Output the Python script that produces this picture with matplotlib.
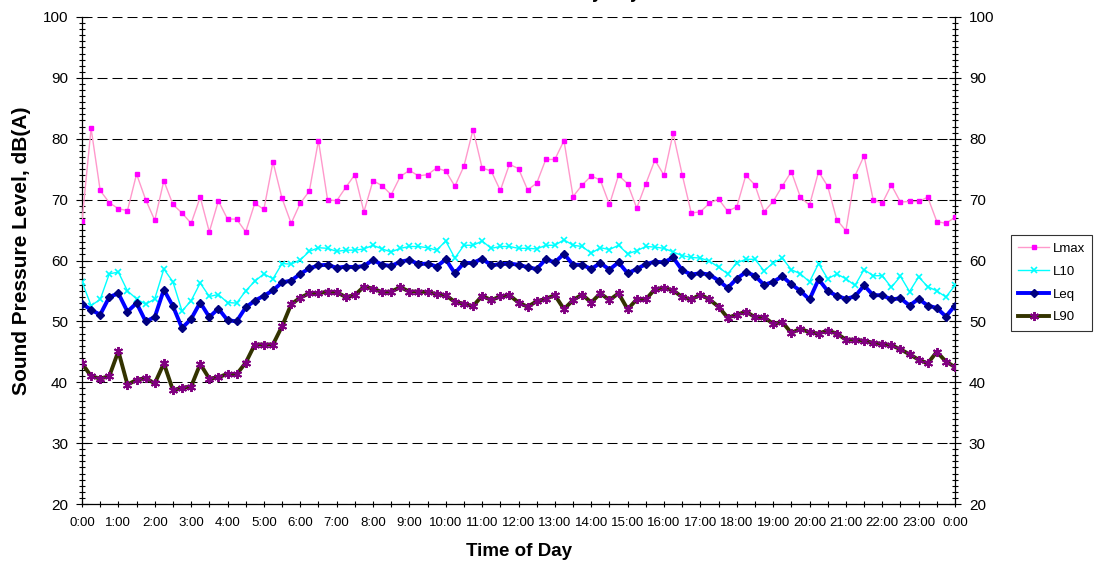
import numpy as np
import matplotlib
matplotlib.use("Agg")
import matplotlib.pyplot as plt
from matplotlib.ticker import MultipleLocator, FixedLocator, FixedFormatter

plt.rcParams['font.family'] = ['Liberation Sans', 'DejaVu Sans']

# 15-minute readings over one day, 0:00 through the following 0:00
hour_labels = [f"{h}:00" for h in range(24)] + ["0:00"]

lmax = [66.5, 81.7, 71.5, 69.5, 68.5, 68.2, 74.2, 70.0, 66.6, 73.1, 69.2, 67.8, 66.1,
        70.4, 64.7, 69.8, 66.8, 66.8, 64.7, 69.4, 68.4, 76.2, 70.2, 66.1, 69.4,
        71.4, 79.7, 70.0, 69.8, 72.0, 74.1, 68.0, 73.1, 72.3, 70.8, 73.8, 74.8,
        73.9, 74.1, 75.2, 74.7, 72.2, 75.5, 81.5, 75.2, 74.7, 71.5, 75.8, 75.1,
        71.6, 72.7, 76.6, 76.6, 79.7, 70.5, 72.4, 73.9, 73.2, 69.2, 74.0, 72.6,
        68.6, 72.6, 76.5, 74.0, 80.9, 74.1, 67.8, 68.0, 69.4, 70.1, 68.1, 68.8,
        74.0, 72.4, 68.0, 69.7, 72.2, 74.6, 70.4, 69.1, 74.6, 72.2, 66.7, 64.9,
        73.9, 77.2, 70.0, 69.4, 72.4, 69.6, 69.7, 69.7, 70.4, 66.4, 66.1, 67.1]

l10 = [56.5, 52.6, 53.6, 57.8, 58.1, 55.0, 53.7, 52.8, 53.7, 58.6, 56.5, 51.7, 53.4,
       56.3, 54.1, 54.4, 53.1, 53.0, 55.0, 56.6, 57.8, 57.0, 59.5, 59.4, 60.1,
       61.5, 62.1, 62.0, 61.5, 61.7, 61.7, 61.9, 62.5, 61.9, 61.4, 62.0, 62.3,
       62.3, 62.1, 61.7, 63.2, 60.4, 62.5, 62.5, 63.2, 62.0, 62.3, 62.3, 62.0,
       62.0, 61.9, 62.5, 62.5, 63.4, 62.5, 62.3, 61.2, 62.1, 61.8, 62.5, 61.1,
       61.6, 62.3, 62.2, 62.0, 61.4, 60.8, 60.5, 60.4, 59.9, 58.9, 57.8, 59.6,
       60.2, 60.2, 58.3, 59.6, 60.4, 58.5, 57.8, 56.5, 59.5, 57.0, 57.8, 57.0,
       55.9, 58.5, 57.5, 57.5, 55.6, 57.4, 54.9, 57.3, 55.7, 55.0, 54.0, 55.9]

leq = [52.9, 51.9, 51.1, 54.0, 54.6, 51.6, 53.0, 50.0, 50.7, 55.2, 52.5, 48.9, 50.4,
       53.1, 50.7, 52.1, 50.2, 50.0, 52.3, 53.4, 54.2, 55.1, 56.4, 56.7, 57.8,
       58.7, 59.2, 59.3, 58.8, 59.0, 58.9, 59.1, 60.1, 59.3, 59.1, 59.8, 60.1,
       59.4, 59.5, 59.0, 60.2, 57.9, 59.6, 59.6, 60.3, 59.2, 59.4, 59.5, 59.3,
       58.9, 58.6, 60.2, 59.7, 61.1, 59.3, 59.3, 58.6, 59.6, 58.5, 59.7, 57.9,
       58.6, 59.4, 59.8, 59.7, 60.5, 58.4, 57.7, 57.9, 57.7, 56.7, 55.5, 57.0,
       58.1, 57.5, 56.0, 56.5, 57.4, 56.1, 55.0, 53.6, 56.9, 55.0, 54.2, 53.7,
       54.1, 55.9, 54.3, 54.3, 53.6, 53.8, 52.6, 53.7, 52.6, 52.2, 50.8, 52.6]

l90 = [43.1, 41.0, 40.6, 41.0, 45.1, 39.6, 40.4, 40.7, 39.8, 43.1, 38.7, 39.1, 39.3,
       43.0, 40.6, 40.8, 41.4, 41.3, 43.2, 46.2, 46.2, 46.2, 49.2, 52.8, 53.9,
       54.6, 54.6, 54.9, 54.8, 54.0, 54.3, 55.7, 55.4, 54.8, 54.9, 55.6, 54.9,
       54.9, 54.8, 54.5, 54.3, 53.2, 52.9, 52.5, 54.2, 53.5, 54.1, 54.3, 53.1,
       52.4, 53.3, 53.7, 54.3, 52.0, 53.5, 54.4, 53.1, 54.6, 53.5, 54.6, 52.0,
       53.6, 53.6, 55.3, 55.5, 55.1, 54.0, 53.6, 54.4, 53.6, 52.4, 50.6, 51.1,
       51.6, 50.7, 50.7, 49.6, 49.9, 48.1, 48.8, 48.2, 48.0, 48.5, 48.0, 47.0,
       47.0, 46.8, 46.5, 46.3, 46.1, 45.4, 44.6, 43.7, 43.1, 45.0, 43.4, 42.5]

x = np.arange(len(lmax))

fig = plt.figure(figsize=(10.99, 5.63), dpi=100)
ax = fig.add_axes([82 / 1099, 1 - 504 / 563, (955 - 82) / 1099, (504 - 17) / 563])

ax.plot(x, lmax, color='#FF99CC', lw=1.0, marker='s', ms=3.4,
        mfc='#FF00FF', mec='#FF00FF', label='Lmax', zorder=3)
ax.plot(x, l10, color='#00FFFF', lw=1.0, marker='x', ms=5, mew=1.2,
        mec='#00FFFF', label='L10', zorder=3)
ax.plot(x, leq, color='#0000FF', lw=2.8, marker='D', ms=3.6,
        mfc='#000080', mec='#000080', label='Leq', zorder=4)
ax.plot(x, l90, color='#333300', lw=2.8, marker=(6, 2, 0), ms=6.5, mew=1.4,
        mec='#800080', label='L90', zorder=4)

ax.set_xlim(0, len(x) - 1)
ax.set_ylim(20, 100)

# hour labels every 4 readings, tick marks every half hour
ax.xaxis.set_major_locator(FixedLocator(np.arange(0, len(x), 4)))
ax.xaxis.set_major_formatter(FixedFormatter(hour_labels))
ax.xaxis.set_minor_locator(MultipleLocator(2))
ax.yaxis.set_major_locator(MultipleLocator(10))
ax.yaxis.set_minor_locator(MultipleLocator(1))

ax.tick_params(axis='x', which='both', direction='inout', length=5, width=0.8,
               labelsize=9.5, pad=7)
ax.tick_params(axis='y', which='major', direction='inout', length=8, width=0.8,
               labelsize=11, left=True, right=True, labelleft=True, labelright=True, pad=6)
ax.tick_params(axis='y', which='minor', direction='inout', length=5, width=0.8,
               left=True, right=True)
for lab in ax.get_xticklabels():
    lab.set_family(['Liberation Sans Narrow', 'Liberation Sans'])

ax.grid(True, axis='y', which='major', color='black', lw=0.75,
        linestyle=(0, (9.6, 4.8)))
ax.set_axisbelow(True)
ax.spines['top'].set_visible(False)
for side in ['left', 'right', 'bottom']:
    ax.spines[side].set_linewidth(0.9)

ax.set_xlabel("Time of Day", fontsize=13.5, fontweight='bold', labelpad=10)
ax.set_ylabel("Sound Pressure Level, dB(A)", fontsize=15, fontweight='bold')
ax.yaxis.set_label_coords(-0.058, 0.52)

# chart title sits mostly above the top edge
fig.text(0.5, 1 + 1.5 / 563, "Sound Levels by Day", ha='center', va='baseline',
         fontsize=13, fontweight='bold')

leg = ax.legend(loc='center left', bbox_to_anchor=(1011 / 1099, 1 - 283 / 563),
                bbox_transform=fig.transFigure, fontsize=9.5, frameon=True,
                fancybox=False, edgecolor='black', handlelength=2.35,
                borderpad=0.55, borderaxespad=0, labelspacing=0.8,
                handletextpad=0.25)
leg.get_frame().set_linewidth(0.8)

fig.savefig("out.png", dpi=100)
